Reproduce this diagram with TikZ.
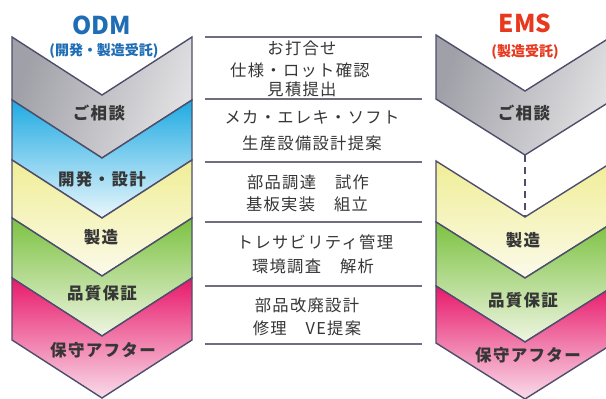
\documentclass[tikz,border=0pt]{standalone}
\usepackage{fontspec}
\setmainfont{Noto Sans CJK JP}
\newfontfamily\jpsp[LetterSpace=8]{Noto Sans CJK JP}
\newfontfamily\jpnorm{Noto Sans CJK JP}
\definecolor{edgec}{HTML}{4E4E6C}
\definecolor{txt}{HTML}{363636}
\definecolor{linec}{HTML}{6E6E80}
\definecolor{odmblue}{HTML}{1F6DB5}
\definecolor{emsred}{HTML}{E8381E}
\definecolor{greyA}{HTML}{A0A0A8}
\definecolor{greyB}{HTML}{E2E2E4}
\definecolor{blueA}{HTML}{1FAAE2}
\definecolor{blueB}{HTML}{EAF7FC}
\definecolor{yelA}{HTML}{F0EE96}
\definecolor{yelB}{HTML}{FBFAEA}
\definecolor{grnA}{HTML}{7CC242}
\definecolor{grnB}{HTML}{EFF5E2}
\definecolor{pnkA}{HTML}{E8196A}
\definecolor{pnkB}{HTML}{F9DCEA}
\newcommand\jplab{\jpsp\bfseries\fontsize{16.5}{18}\selectfont}
\newcommand\jpmid{\jpsp\fontsize{16.3}{18}\selectfont}
\newcommand\jpsub{\jpnorm\bfseries\fontsize{14}{16}\selectfont}
\newcommand\jphead{\jpnorm\bfseries\fontsize{24.5}{26}\selectfont}
\begin{document}
\begin{tikzpicture}[x=1pt,y=-1pt,
  outl/.style={draw=edgec,line width=1.4pt,line join=miter},
  gshade/.style={outl,left color=greyA,right color=greyB,shading angle=70},
  bshade/.style={outl,top color=blueA,bottom color=blueB},
  yshade/.style={outl,top color=yelA,bottom color=yelB},
  nshade/.style={outl,top color=grnA,bottom color=grnB},
  pshade/.style={outl,top color=pnkA,bottom color=pnkB},
  lab/.style={font=\jplab,text=txt,inner sep=0pt},
  mid/.style={font=\jpmid,text=txt,inner sep=0pt},
  sep/.style={draw=linec,line width=1.2pt},
  dashc/.style={draw=edgec,line width=1.2pt,dash pattern=on 7pt off 5pt}]
\useasboundingbox (0,0) rectangle (606,399);
\fill[white] (0,0) rectangle (606,399);
% left column (ODM)
\path[gshade] (12,37)--(102,95)--(192,37)--(192,100)--(102,158)--(12,100)--cycle;
\path[bshade] (12,100)--(102,158)--(192,100)--(192,160)--(102,218)--(12,160)--cycle;
\path[yshade] (12,160)--(102,218)--(192,160)--(192,218)--(102,276)--(12,218)--cycle;
\path[nshade] (12,218)--(102,276)--(192,218)--(192,278)--(102,336)--(12,278)--cycle;
\path[pshade] (12,278)--(102,336)--(192,278)--(192,340)--(102,398)--(12,340)--cycle;
% right column (EMS)
\path[gshade] (436,35)--(525,91)--(614,35)--(614,99)--(525,155)--(436,99)--cycle;
\path[yshade] (436,161)--(525,217)--(614,161)--(614,222)--(525,278)--(436,222)--cycle;
\path[nshade] (436,222)--(525,278)--(614,222)--(614,286)--(525,342)--(436,286)--cycle;
\path[pshade] (436,286)--(525,342)--(614,286)--(614,343)--(525,399)--(436,343)--cycle;
\coordinate (ga) at (525,155);
\coordinate (ya) at (525,217);
\draw[dashc] (ga) -- (ya);
% headers
\node[font=\jphead,text=odmblue,inner sep=0pt] (odm) at (102,25) {ODM};
\node[font=\jpsub,text=odmblue,inner sep=0pt] (odms) at (104,51) {(開発・製造受託)};
\node[font=\jphead,text=emsred,inner sep=0pt] (ems) at (525,23) {EMS};
\node[font=\jpsub,text=emsred,inner sep=0pt] (emss) at (525,52) {(製造受託)};
% left labels
\node[lab] (l1) at (99,113) {ご相談};
\node[lab] (l2) at (102,179) {開発・設計};
\node[lab] (l3) at (101,237) {製造};
\node[lab] (l4) at (102,293) {品質保証};
\node[lab] (l5) at (103,350) {保守アフター};
% right labels
\node[lab] (r1) at (524,113) {ご相談};
\node[lab] (r3) at (523,240) {製造};
\node[lab] (r4) at (523,300) {品質保証};
\node[lab] (r5) at (528,355) {保守アフター};
% middle separators
\foreach \yy [count=\i] in {37,99,162,222,286,344} {
  \coordinate (sa\i) at (205,\yy);
  \coordinate (sb\i) at (422,\yy);
  \draw[sep] (sa\i) -- (sb\i);
}
% middle texts
\node[mid] (m1) at (302,48.5) {お打合せ};
\node[mid] (m2) at (300,70) {仕様・ロット確認};
\node[mid] (m3) at (302,89) {見積提出};
\node[mid] (m4) at (312,117.5) {メカ・エレキ・ソフト};
\node[mid] (m5) at (312,143) {生産設備設計提案};
\node[mid] (m6) at (308,182.5) {部品調達　試作};
\node[mid] (m7) at (307,204) {基板実装　組立};
\node[mid] (m8) at (315,242.5) {トレサビリティ管理};
\node[mid] (m9) at (313,266.7) {環境調査　解析};
\node[mid] (m10) at (307,305) {部品改廃設計};
\node[mid] (m11) at (307,328) {修理　VE提案};
\end{tikzpicture}
\end{document}
